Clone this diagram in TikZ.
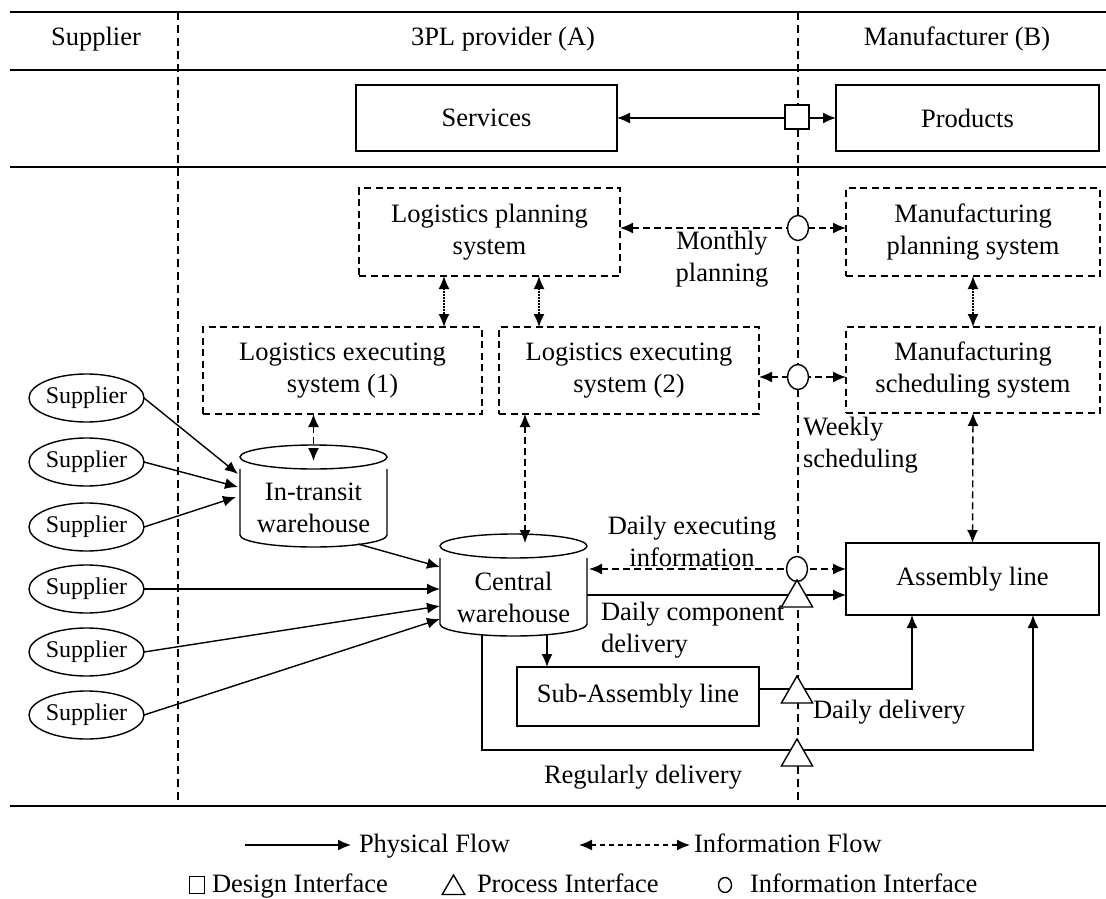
\documentclass[tikz,border=0pt]{standalone}
\usepackage{fontspec}
\setmainfont{Liberation Serif}
\usetikzlibrary{arrows.meta,shapes.geometric,calc}
\newcommand\mainfs{\fontsize{26.5}{32}\selectfont}
\newcommand\supfs{\fontsize{24}{28}\selectfont}
\begin{document}
\begin{tikzpicture}[x=1pt,y=-1pt,
  >={Latex[length=13pt,width=11pt]},
  every node/.style={font=\mainfs, inner sep=0pt, outer sep=0pt},
  lw/.style={line width=1.4pt},
  box/.style={draw, lw, align=center},
  dbox/.style={box, dash pattern=on 7pt off 4.5pt},
  sup/.style={draw, lw, ellipse, minimum width=111pt, minimum height=48pt, font=\supfs},
  cyl/.style={minimum width=147pt, minimum height=78pt, align=center},
  phys/.style={lw, ->},
  info/.style={lw, <->, dash pattern=on 7pt off 4pt},
  dotinfo/.style={lw, <->, dash pattern=on 1.5pt off 1.5pt},
  sepline/.style={line width=1.3pt, dash pattern=on 8pt off 5pt},
  hline/.style={line width=2.2pt},
  iface/.style={draw, lw, fill=white, ellipse, minimum width=21pt, minimum height=25pt},
  pface/.style={draw, lw, fill=white, regular polygon, regular polygon sides=3, minimum size=36pt},
  dface/.style={draw, lw, fill=white, minimum width=24pt, minimum height=24pt},
  lbl/.style={align=center},
  lbll/.style={align=left, anchor=west},
  legtxt/.style={anchor=base west},
]
\useasboundingbox (0,0) rectangle (1106,899);

% frame lines
\draw[hline] (10,12) -- (1106,12);
\draw[hline] (10,70) -- (1106,70);
\draw[hline] (10,167) -- (1106,167);
\draw[hline] (10,806) -- (1106,806);
\draw[sepline] (178,12) -- (178,806);
\draw[sepline] (798,12) -- (798,806);

% header
\node (hs) at (96,39) {Supplier};
\node (ha) at (503,39) {3PL provider (A)};
\node (hb) at (957,39) {Manufacturer (B)};

% boxes
\node[box, minimum width=261pt, minimum height=66pt] (svc) at (486.5,118) {Services};
\node[box, minimum width=263pt, minimum height=66pt] (prd) at (967.5,118) {Products};
\node[dbox, minimum width=261pt, minimum height=88pt] (lps) at (489.5,232) {Logistics planning\\system};
\node[dbox, minimum width=254pt, minimum height=88pt] (mps) at (973,232) {Manufacturing\\planning system};
\node[dbox, minimum width=279pt, minimum height=87pt] (les1) at (342.5,370.5) {Logistics executing\\system (1)};
\node[dbox, minimum width=260pt, minimum height=87pt] (les2) at (629,370.5) {Logistics executing\\system (2)};
\node[dbox, minimum width=254pt, minimum height=86pt] (mss) at (973,370) {Manufacturing\\scheduling system};
\node[box, minimum width=253pt, minimum height=72pt] (al) at (972.5,579) {Assembly line};
\node[box, minimum width=242pt, minimum height=59pt] (sal) at (638,696.5) {Sub-Assembly line};

% cylinders
\node[cyl] (itw) at (313.5,508) {In-transit\\warehouse};
\node[cyl] (cw) at (513.5,597) {Central\\warehouse};
\foreach \c in {itw,cw}{
  \draw[lw] ($(\c.north)+(0,-12)$) ellipse [x radius=73.5, y radius=12];
  \draw[lw] (\c.north west) -- ($(\c.south west)+(0,-12)$)
     arc[start angle=180, end angle=0, x radius=73.5, y radius=12] -- (\c.north east);
}

% suppliers
\node[sup] (s1) at (86.5,398) {Supplier};
\node[sup] (s2) at (86.5,462) {Supplier};
\node[sup] (s3) at (86.5,527) {Supplier};
\node[sup] (s4) at (86.5,589) {Supplier};
\node[sup] (s5) at (86.5,652) {Supplier};
\node[sup] (s6) at (86.5,715) {Supplier};

% supplier flows
\draw[phys] (s1.east) -- ($(itw.north west)+(-2,5)$);
\draw[phys] (s2.east) -- ($(itw.north west)+(-2,18)$);
\draw[phys] (s3.east) -- ($(itw.north west)+(-4,28)$);
\draw[phys] ($(itw.south)+(44.5,-3)$) -- ($(cw.north west)+(0,9)$);
\draw[phys] (s4.east) -- (s4.east -| cw.west);
\draw[phys] (s5.east) -- ($(cw.north west)+(0,48)$);
\draw[phys] (s6.east) -- ($(cw.north west)+(0,61)$);

% top connectors
\draw[lw, <->] (svc.east) -- (prd.west);
\draw[info] ($(lps.east)+(0,-4)$) -- ($(mps.west)+(0,-4)$);
\draw[dotinfo] ($(lps.south west)+(85,0)$) -- ($(les1.north west)+(241,0)$);
\draw[dotinfo] ($(lps.south west)+(180,0)$) -- ($(les2.north west)+(40,0)$);
\draw[dotinfo] (mps.south) -- (mss.north);
\draw[info] ($(les2.east)+(0,6.5)$) -- ($(mss.west)+(0,7)$);
\draw[info] ($(les1.south)+(-29,0)$) -- ($(itw.north)+(0,-8)$);
\draw[info] ($(les2.south)+(-104,0)$) -- ($(cw.north)+(11.5,-15)$);
\draw[info] (mss.south) -- (al.north);

% central to assembly
\draw[info] ($(cw.north east)+(2,11)$) -- ($(al.west)+(0,-10)$);
\draw[phys] ($(cw.north east)+(0,37)$) -- ($(al.west)+(0,16)$);
\draw[phys] ($(cw.south west)+(107,-2)$) -- ($(sal.north west)+(30,0)$);
\draw[phys] ($(sal.east)+(0,-7.5)$) -| ($(al.south west)+(66,0)$);
\draw[phys] ($(cw.south west)+(42,-2)$) -- ($(cw.south west)+(42,114)$) -| ($(al.south west)+(187,0)$);

% interfaces
\node[dface] (d1) at (797,117) {};
\node[iface] (i1) at (798,228) {};
\node[iface] (i2) at (798,377) {};
\node[iface] (i3) at (797,569) {};
\node[pface] (p1) at (797,598) {};
\node[pface] (p2) at (797,694) {};
\node[pface] (p3) at (797,757) {};

% labels
\node[lbl] (lm) at (722,259) {Monthly\\planning};
\node[lbll] (lw) at (803,445) {Weekly\\scheduling};
\node[lbl] (ld) at (692,541) {Daily executing\\information};
\node[lbll] (lc) at (601,630) {Daily component\\delivery};
\node[lbll] (ldd) at (813,712) {Daily delivery};
\node[lbl] (lr) at (643,777) {Regularly delivery};

% legend
\coordinate (lp1) at (245,845);
\coordinate (lp2) at (351,845);
\draw[phys] (lp1) -- (lp2);
\node[legtxt] (tp) at (359,852) {Physical Flow};
\coordinate (li1) at (579,845);
\coordinate (li2) at (690,845);
\draw[info, dash pattern=on 5pt off 4pt] (li1) -- (li2);
\node[legtxt] (ti) at (694,852) {Information Flow};
\node[draw, lw, minimum width=15pt, minimum height=17pt] (ld1) at (197,885) {};
\node[legtxt] (td) at (212,892) {Design Interface};
\node[draw, lw, regular polygon, regular polygon sides=3, minimum size=26pt] (lt1) at (453.5,888) {};
\node[legtxt] (tpr) at (477,892) {Process Interface};
\node[draw, lw, ellipse, minimum width=13pt, minimum height=15pt] (lc1) at (725,885) {};
\node[legtxt] (tii) at (750,892) {Information Interface};
\end{tikzpicture}
\end{document}
